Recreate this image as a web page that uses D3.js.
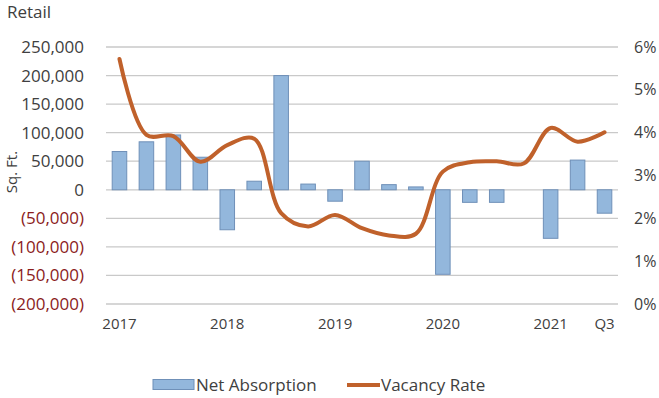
<!DOCTYPE html>
<html>
<head>
<meta charset="utf-8">
<script src="https://cdnjs.cloudflare.com/ajax/libs/d3/7.8.5/d3.min.js"></script>
<style>
  html, body { margin: 0; padding: 0; background: #ffffff; }
  svg { display: block; font-family: "Open Sans", "DejaVu Sans", sans-serif; }
</style>
</head>
<body>
<svg id="chart" width="659" height="398"></svg>
<script>
// Quarterly retail market: net absorption (sq. ft.) and vacancy rate, 2017 Q1 – 2021 Q3
const quarters = [
  "2017 Q1", "2017 Q2", "2017 Q3", "2017 Q4",
  "2018 Q1", "2018 Q2", "2018 Q3", "2018 Q4",
  "2019 Q1", "2019 Q2", "2019 Q3", "2019 Q4",
  "2020 Q1", "2020 Q2", "2020 Q3", "2020 Q4",
  "2021 Q1", "2021 Q2", "2021 Q3"
];
const netAbsorption = [
  67000, 84000, 96000, 57000,
  -70000, 15000, 200000, 10000,
  -20000, 50000, 9000, 5000,
  -148000, -22000, -22000, 0,
  -85000, 52000, -41000
];
const vacancyRate = [
  0.0572, 0.0395, 0.0392, 0.0332,
  0.0371, 0.0386, 0.0212, 0.0181,
  0.0208, 0.0177, 0.0160, 0.0164,
  0.0309, 0.0331, 0.0333, 0.0328,
  0.0411, 0.0379, 0.0401
];
// Category labels shown under the axis (blank = no label)
const xTickLabels = [
  "2017", "", "", "",
  "2018", "", "", "",
  "2019", "", "", "",
  "2020", "", "", "",
  "2021", "", "Q3"
];
const leftTicks = [250000, 200000, 150000, 100000, 50000, 0, -50000, -100000, -150000, -200000];
const rightTicks = [0, 0.01, 0.02, 0.03, 0.04, 0.05, 0.06];
const seriesNames = ["Net Absorption", "Vacancy Rate"];

const svg = d3.select("#chart");
const plot = { left: 106, right: 618, top: 47, bottom: 304 };

const colors = {
  barFill: "#93b7dc",
  barStroke: "#6f90b8",
  line: "#c0612b",
  grid: "#c9c9c9",
  text: "#404040",
  negText: "#8b1c1c"
};

const x = d3.scaleBand()
  .domain(quarters)
  .range([plot.left, plot.right])
  .paddingInner(0.46)
  .paddingOuter(0.23);

const yLeft = d3.scaleLinear().domain([-200000, 250000]).range([plot.bottom, plot.top]);
const yRight = d3.scaleLinear().domain([0, 0.06]).range([plot.bottom, plot.top]);

// Title
svg.append("text")
  .attr("x", 7).attr("y", 18)
  .attr("font-size", 17)
  .attr("fill", colors.text)
  .text("Retail");

// Gridlines
svg.append("g")
  .selectAll("line")
  .data(leftTicks)
  .join("line")
  .attr("x1", plot.left).attr("x2", plot.right)
  .attr("y1", d => yLeft(d)).attr("y2", d => yLeft(d))
  .attr("stroke", colors.grid)
  .attr("stroke-width", 1.3);

// Left axis: accounting-style numbers, negatives in parentheses
const fmt = d3.format(",");
const leftAxis = d3.axisLeft(yLeft)
  .tickValues(leftTicks)
  .tickSize(0)
  .tickPadding(0)
  .tickFormat(d => d < 0 ? "(" + fmt(-d) + ")" : fmt(d));
const gL = svg.append("g")
  .attr("transform", `translate(84,0)`)
  .call(leftAxis);
gL.select(".domain").remove();
gL.selectAll("text")
  .attr("font-size", 17)
  .attr("font-family", "Open Sans, sans-serif")
  .attr("fill", d => d < 0 ? colors.negText : colors.text);

// Right axis: vacancy percentage
const rightAxis = d3.axisRight(yRight)
  .tickValues(rightTicks)
  .tickSize(0)
  .tickPadding(0)
  .tickFormat(d3.format(".0%"));
const gR = svg.append("g")
  .attr("transform", `translate(634,0)`)
  .call(rightAxis);
gR.select(".domain").remove();
gR.selectAll("text")
  .attr("font-size", 16)
  .attr("font-family", "Open Sans, sans-serif")
  .attr("fill", colors.text);

// Left axis title, rotated
svg.append("text")
  .attr("transform", `translate(17,172) rotate(-90)`)
  .attr("text-anchor", "middle")
  .attr("font-size", 15)
  .attr("fill", colors.text)
  .text("Sq. Ft.");

// Bottom category axis
const bottomAxis = d3.axisBottom(x)
  .tickSize(0)
  .tickPadding(0)
  .tickFormat((d, i) => xTickLabels[i]);
const gB = svg.append("g")
  .attr("transform", `translate(0,318)`)
  .call(bottomAxis);
gB.select(".domain").remove();
gB.selectAll("text")
  .attr("font-size", 15)
  .attr("font-family", "Open Sans, sans-serif")
  .attr("fill", colors.text);

// Net absorption bars
svg.append("g")
  .selectAll("rect")
  .data(quarters.map((q, i) => ({ q, v: netAbsorption[i] })).filter(d => d.v !== 0))
  .join("rect")
  .attr("x", d => x(d.q))
  .attr("width", x.bandwidth())
  .attr("y", d => yLeft(Math.max(0, d.v)))
  .attr("height", d => Math.abs(yLeft(d.v) - yLeft(0)))
  .attr("fill", colors.barFill)
  .attr("stroke", colors.barStroke)
  .attr("stroke-width", 1);

// Vacancy rate smoothed line
const line = d3.line()
  .x((d, i) => x(quarters[i]) + x.bandwidth() / 2)
  .y(d => yRight(d))
  .curve(d3.curveCatmullRom.alpha(0.5));
svg.append("path")
  .datum(vacancyRate)
  .attr("d", line)
  .attr("fill", "none")
  .attr("stroke", colors.line)
  .attr("stroke-width", 4)
  .attr("stroke-linecap", "round")
  .attr("stroke-linejoin", "round");

// Legend
const legend = svg.append("g").attr("font-size", 17).attr("fill", colors.text);
legend.append("rect")
  .attr("x", 153).attr("y", 379.5)
  .attr("width", 41).attr("height", 10)
  .attr("fill", colors.barFill)
  .attr("stroke", colors.barStroke);
legend.append("text")
  .attr("x", 196).attr("y", 385).attr("dy", "0.35em")
  .text(seriesNames[0]);
legend.append("line")
  .attr("x1", 347).attr("x2", 380)
  .attr("y1", 385).attr("y2", 385)
  .attr("stroke", colors.line)
  .attr("stroke-width", 4);
legend.append("text")
  .attr("x", 381).attr("y", 385).attr("dy", "0.35em")
  .text(seriesNames[1]);
</script>
</body>
</html>
